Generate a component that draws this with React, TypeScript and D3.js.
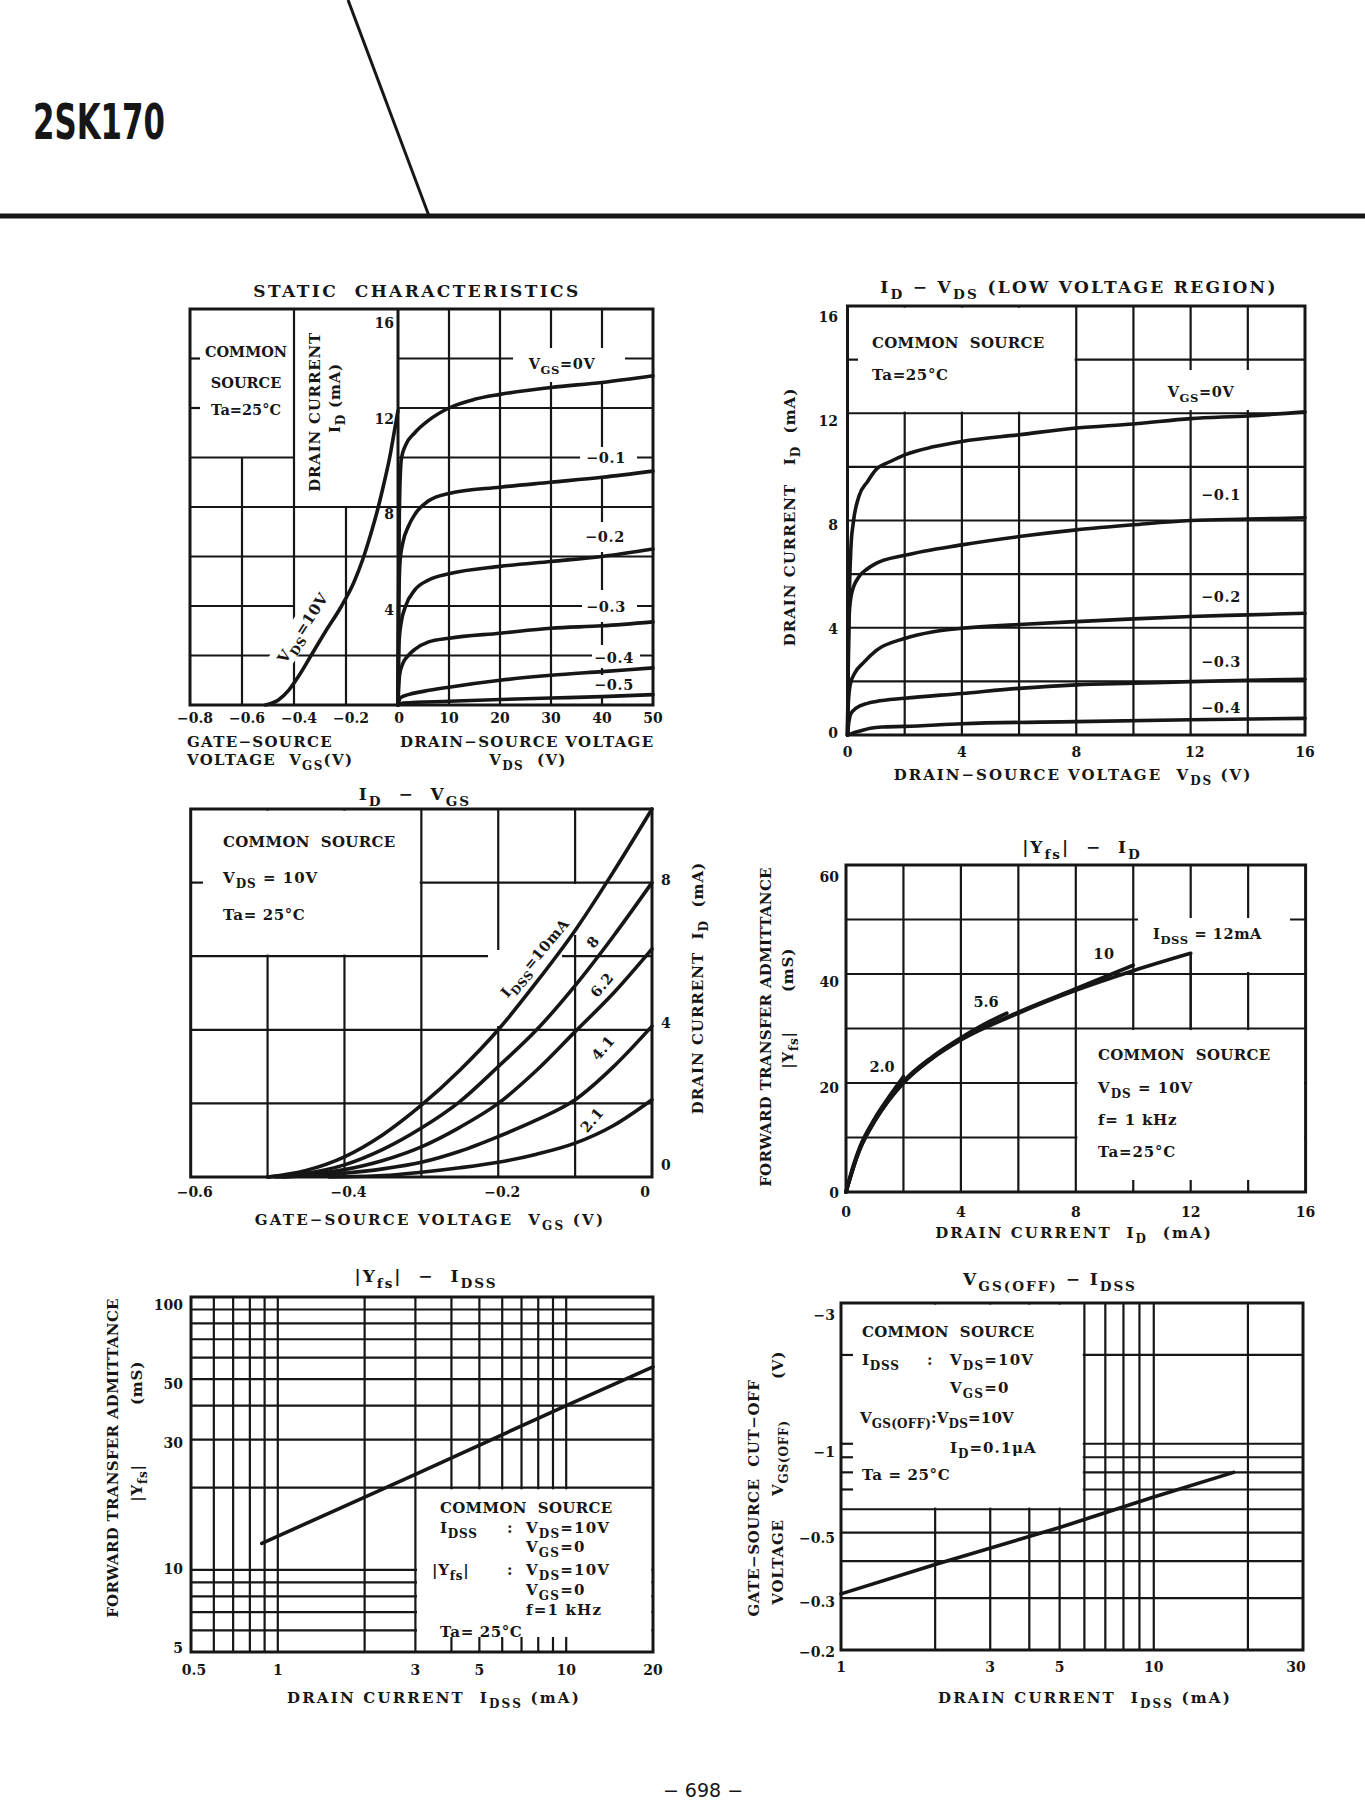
import React from 'react';
import * as d3 from 'd3';

const INK = '#161616';
const SERIF = "'DejaVu Serif', 'Liberation Serif', serif";
const SANS = "'DejaVu Sans', 'Liberation Sans', sans-serif";

type Pt = [number, number];

// ---- header ----
const partNumber = '2SK170';
const pageNumber = '− 698 −';

// ---- STATIC CHARACTERISTICS ----
const staticVgsTicks = [-0.8, -0.6, -0.4, -0.2];
const staticVgsTickLabels = ['−0.8', '−0.6', '−0.4', '−0.2'];
const staticVdsTicks = [0, 10, 20, 30, 40, 50];
const staticIdTicks = [4, 8, 12, 16];
const staticVdsGrid = [10, 20, 30, 40];
const staticIdGrid = [2, 4, 6, 8, 10, 12, 14];
const staticCurveLabels = ['V_{GS}=0V', '−0.1', '−0.2', '−0.3', '−0.4', '−0.5'];
const staticOut0: Pt[] = [[0, 0], [0.1, 4], [0.25, 7.5], [0.45, 9.3], [0.7, 10], [1.5, 10.5], [3.3, 11], [6, 11.5], [10, 12], [15, 12.35], [20, 12.55], [30, 12.83], [40, 13.03], [50, 13.3]];
const staticOut1: Pt[] = [[0, 0], [0.15, 4], [0.4, 5.8], [1, 6.6], [2, 7.2], [3.3, 7.7], [6, 8.25], [10, 8.55], [20, 8.8], [30, 9], [40, 9.2], [50, 9.45]];
const staticOut2: Pt[] = [[0, 0], [0.2, 2.5], [0.6, 3.3], [1.5, 4], [3.3, 4.65], [6, 5.05], [10, 5.3], [20, 5.6], [30, 5.8], [40, 6], [50, 6.3]];
const staticOut3: Pt[] = [[0, 0], [0.3, 1.2], [1, 1.7], [2, 2], [3.3, 2.25], [6, 2.55], [10, 2.7], [20, 2.9], [30, 3.1], [40, 3.2], [50, 3.36]];
const staticOut4: Pt[] = [[0, 0], [0.5, 0.3], [2, 0.42], [5, 0.55], [10, 0.72], [20, 1], [30, 1.2], [40, 1.35], [50, 1.5]];
const staticOut5: Pt[] = [[0, 0], [1, 0.08], [10, 0.15], [20, 0.22], [30, 0.28], [40, 0.34], [50, 0.42]];
const staticTransfer: Pt[] = [[-0.51, 0], [-0.46, 0.2], [-0.42, 0.6], [-0.38, 1.2], [-0.34, 1.9], [-0.28, 2.95], [-0.22, 3.95], [-0.17, 4.95], [-0.135, 5.9], [-0.105, 6.9], [-0.077, 7.95], [-0.053, 9], [-0.032, 10], [-0.015, 11], [0, 11.9]];

// ---- ID - VDS (LOW VOLTAGE REGION) ----
const lvTicks = [0, 4, 8, 12, 16];
const lvGrid = [2, 4, 6, 8, 10, 12, 14];
const lvCurveLabels = ['V_{GS}=0V', '−0.1', '−0.2', '−0.3', '−0.4'];
const lv0: Pt[] = [[0, 0], [0.03, 3], [0.07, 5.5], [0.12, 7], [0.2, 7.9], [0.4, 8.9], [0.7, 9.45], [1, 9.9], [1.5, 10.2], [2, 10.45], [3, 10.75], [4, 10.95], [6, 11.2], [8, 11.45], [10, 11.6], [12, 11.8], [14, 11.9], [16, 12.05]];
const lv1: Pt[] = [[0, 0], [0.03, 3], [0.06, 4.5], [0.15, 5.3], [0.4, 5.9], [0.7, 6.2], [1, 6.4], [2, 6.7], [4, 7.09], [6, 7.4], [8, 7.65], [10, 7.84], [12, 8], [14, 8.05], [16, 8.1]];
const lv2: Pt[] = [[0, 0], [0.03, 1.2], [0.1, 1.9], [0.25, 2.3], [0.56, 2.7], [1, 3.15], [2, 3.6], [3, 3.85], [4, 3.98], [6, 4.12], [8, 4.23], [10, 4.33], [12, 4.42], [14, 4.48], [16, 4.54]];
const lv3: Pt[] = [[0, 0], [0.05, 0.5], [0.12, 0.8], [0.3, 1], [0.7, 1.18], [1, 1.25], [2, 1.37], [4, 1.55], [6, 1.74], [8, 1.87], [10, 1.93], [12, 1.99], [14, 2.04], [16, 2.08]];
const lv4: Pt[] = [[0, 0], [0.2, 0.08], [0.5, 0.17], [0.8, 0.25], [1.2, 0.3], [2, 0.32], [4, 0.42], [8, 0.5], [12, 0.57], [16, 0.62]];

// ---- ID - VGS ----
const idVgsXTicks = [-0.6, -0.4, -0.2, 0];
const idVgsXTickLabels = ['−0.6', '−0.4', '−0.2', '0'];
const idVgsYTicks = [0, 4, 8];
const idVgsXGrid = [-0.5, -0.4, -0.3, -0.2, -0.1];
const idVgsYGrid = [2, 4, 6, 8];
const idVgsLabels = ['I_{DSS}=10mA', '8', '6.2', '4.1', '2.1'];
const idVgs10: Pt[] = [[-0.5, 0], [-0.45, 0.18], [-0.4, 0.55], [-0.35, 1.15], [-0.3, 1.95], [-0.25, 2.9], [-0.2, 4], [-0.15, 5.3], [-0.1, 6.7], [-0.05, 8.3], [0, 10]];
const idVgs8: Pt[] = [[-0.5, 0], [-0.45, 0.1], [-0.4, 0.33], [-0.35, 0.75], [-0.3, 1.33], [-0.25, 2.05], [-0.2, 3], [-0.15, 4], [-0.1, 5.2], [-0.05, 6.55], [0, 8]];
const idVgs62: Pt[] = [[-0.49, 0], [-0.45, 0.05], [-0.4, 0.2], [-0.35, 0.45], [-0.3, 0.82], [-0.25, 1.35], [-0.2, 2], [-0.15, 2.9], [-0.1, 3.95], [-0.05, 5], [0, 6.2]];
const idVgs41: Pt[] = [[-0.48, 0], [-0.4, 0.1], [-0.35, 0.22], [-0.3, 0.4], [-0.25, 0.7], [-0.2, 1.1], [-0.15, 1.55], [-0.1, 2.1], [-0.05, 3], [0, 4.1]];
const idVgs21: Pt[] = [[-0.42, 0], [-0.35, 0.04], [-0.3, 0.13], [-0.25, 0.25], [-0.2, 0.4], [-0.15, 0.62], [-0.1, 0.92], [-0.05, 1.4], [0, 2.1]];

// ---- |Yfs| - ID ----
const yfsIdXTicks = [0, 4, 8, 12, 16];
const yfsIdYTicks = [0, 20, 40, 60];
const yfsIdXGrid = [2, 4, 6, 8, 10, 12, 14];
const yfsIdYGrid = [10, 20, 30, 40, 50];
const yfsIdLabels = ['2.0', '5.6', '10', 'I_{DSS} = 12mA'];
const yfsId20: Pt[] = [[0, 0], [0.25, 4.8], [0.5, 8.5], [1, 13.5], [1.5, 17.5], [2, 21.2]];
const yfsId56: Pt[] = [[0, 0], [0.5, 8.3], [1, 13.2], [2, 20.3], [3, 24.8], [4, 28.3], [5, 31.3], [5.6, 32.8]];
const yfsId10: Pt[] = [[0, 0], [0.5, 8.1], [1, 13], [2, 20.1], [3, 24.6], [4, 28], [6, 33], [8, 37.3], [10, 41.6]];
const yfsId12: Pt[] = [[0, 0], [0.25, 4.5], [0.5, 8], [1, 13], [2, 20], [3, 24.5], [4, 27.9], [6, 32.8], [8, 37], [10, 40.6], [12, 43.8]];

// ---- |Yfs| - IDSS ----
const yfsIdssXTicks = [0.5, 1, 3, 5, 10, 20];
const yfsIdssYTicks = [5, 10, 30, 50, 100];
const yfsIdssXGrid = [0.6, 0.7, 0.8, 0.9, 1, 2, 3, 4, 5, 6, 7, 8, 9, 10];
const yfsIdssYGrid = [6, 7, 8, 9, 10, 20, 30, 40, 50, 60, 70, 80, 90];
const yfsIdssBottomTicks = [4, 5, 6, 7, 8, 9, 10];
const yfsIdss: Pt[] = [[0.88, 12.5], [3, 22.4], [10, 40], [20, 55.5]];

// ---- VGS(OFF) - IDSS ----
const vgsOffXTicks = [1, 3, 5, 10, 30];
const vgsOffYTicks = [0.2, 0.3, 0.5, 1, 3];
const vgsOffYTickLabels = ['−0.2', '−0.3', '−0.5', '−1', '−3'];
const vgsOffXGrid = [2, 3, 4, 5, 6, 7, 8, 9, 10, 20];
const vgsOffYGrid = [0.3, 0.4, 0.5, 0.6, 0.7, 0.8, 0.9, 1, 2];
const vgsOffLeftTicks = [0.7, 0.8, 0.9, 1, 2];
const vgsOff: Pt[] = [[1, 0.31], [2, 0.39], [5, 0.52], [10, 0.66], [18, 0.8]];

function Txt({ x, y, t, size = 15, anchor = 'start', rot = 0, ls = 0.3, weight = 700, family = SERIF, dy = 0 }: any) {
  const parts = String(t).split(/(_\{[^}]*\})/).filter((s) => s.length > 0);
  const sh = size * 0.36;
  let low = false;
  const spans = parts.map((p, i) => {
    if (p.startsWith('_{')) {
      const d = low ? 0 : sh;
      low = true;
      return <tspan key={i} dy={d} fontSize={size * 0.8}>{p.slice(2, -1)}</tspan>;
    }
    const d = low ? -sh : 0;
    low = false;
    return <tspan key={i} dy={d}>{p}</tspan>;
  });
  return (
    <text
      transform={`translate(${x},${y})` + (rot ? ` rotate(${rot})` : '')}
      y={dy}
      fontFamily={family}
      fontSize={size}
      fontWeight={weight}
      letterSpacing={ls}
      textAnchor={anchor}
      fill={INK}
      style={{ whiteSpace: 'pre' }}
    >
      {spans}
    </text>
  );
}

function Grid({ sx, sy, xs, ys, xd, yd, w = 2.2 }: any) {
  return (
    <g stroke={INK} strokeWidth={w}>
      {xs.map((v: number) => <line key={'x' + v} x1={sx(v)} x2={sx(v)} y1={sy(yd[0])} y2={sy(yd[1])} />)}
      {ys.map((v: number) => <line key={'y' + v} x1={sx(xd[0])} x2={sx(xd[1])} y1={sy(v)} y2={sy(v)} />)}
    </g>
  );
}

function Knock({ x0, y0, x1, y1 }: any) {
  return <rect x={Math.min(x0, x1)} y={Math.min(y0, y1)} width={Math.abs(x1 - x0)} height={Math.abs(y1 - y0)} fill="#fff" />;
}

// white-out a rectangular region given in data coordinates, keeping its bordering grid lines
function BoxKnock({ sx, sy, xa, xb, ya, yb }: any) {
  const px = [sx(xa), sx(xb)].sort((a, b) => a - b);
  const py = [sy(ya), sy(yb)].sort((a, b) => a - b);
  return <Knock x0={px[0] + 1.6} x1={px[1] - 1.6} y0={py[0] + 1.6} y1={py[1] - 1.6} />;
}

function Frame({ x0, y0, x1, y1 }: any) {
  return <rect x={x0} y={y0} width={x1 - x0} height={y1 - y0} fill="none" stroke={INK} strokeWidth={3} />;
}

function Curve({ pts, sx, sy, w = 3.6, straight = false }: any) {
  const gen = d3
    .line<Pt>()
    .x((d) => sx(d[0]))
    .y((d) => sy(d[1]))
    .curve(straight ? d3.curveLinear : d3.curveMonotoneX);
  return <path d={gen(pts) || ''} fill="none" stroke={INK} strokeWidth={w} strokeLinecap="round" strokeLinejoin="round" />;
}

const L = ({ x1, y1, x2, y2, w = 2.2 }: any) => <line x1={x1} y1={y1} x2={x2} y2={y2} stroke={INK} strokeWidth={w} />;

const COMMON_SOURCE = 'COMMON\u00a0\u00a0SOURCE';

export default function App() {
  // ---------- scales ----------
  const s1g = d3.scaleLinear().domain([-0.8, 0]).range([190, 398]);
  const s1d = d3.scaleLinear().domain([0, 50]).range([398, 653]);
  const s1y = d3.scaleLinear().domain([0, 16]).range([705, 309]);
  const s1lab = d3.scaleLinear().domain([4, 16]).range([615, 328]);

  const s2x = d3.scaleLinear().domain([0, 16]).range([847.5, 1305]);
  const s2y = d3.scaleLinear().domain([0, 16]).range([735, 306]);
  const s2lab = d3.scaleLinear().domain([0, 16]).range([738, 322]);

  const s3x = d3.scaleLinear().domain([-0.6, 0]).range([190.7, 652]);
  const s3y = d3.scaleLinear().domain([0, 10]).range([1177, 809]);
  const s3lab = d3.scaleLinear().domain([0, 8]).range([1170, 885]);

  const s4x = d3.scaleLinear().domain([0, 16]).range([846, 1305.6]);
  const s4y = d3.scaleLinear().domain([0, 60]).range([1192, 865]);
  const s4lab = d3.scaleLinear().domain([0, 60]).range([1198, 882]);

  const s5x = d3.scaleLog().domain([0.5, 20]).range([191, 653]);
  const s5y = d3.scaleLog().domain([5, 100]).range([1652, 1297]);
  const s5lab = d3.scaleLog().domain([5, 100]).range([1653, 1310]);

  const s6x = d3.scaleLog().domain([1, 30]).range([841, 1303]);
  const s6y = d3.scaleLog().domain([0.2, 3]).range([1650, 1303]);
  const s6lab = d3.scaleLog().domain([0.2, 3]).range([1657, 1320]);

  // left-half grid of the static chart is irregular: [value, from, to]
  const staticLeftH = [[10, -0.8, -0.4], [8, -0.8, 0], [6, -0.8, 0], [4, -0.8, -0.4], [2, -0.8, 0]];
  const staticLeftV = [[-0.6, 0, 10], [-0.4, 0, 16], [-0.2, 0, 8]];
  const staticOut = [staticOut0, staticOut1, staticOut2, staticOut3, staticOut4, staticOut5];
  const staticLabelPos = [[562, 369], [606, 463], [605, 542], [606, 612], [614, 663], [614, 690]];

  const lvCurves = [lv0, lv1, lv2, lv3, lv4];
  const lvLabelPos = [[1201, 397], [1221, 500], [1221, 602], [1221, 667], [1221, 713]];

  const idVgsCurves = [idVgs10, idVgs8, idVgs62, idVgs41, idVgs21];
  const idVgsLabelPos = [[535, 958], [593, 942], [602, 985], [603, 1048], [592, 1120]];

  const yfsIdCurves = [yfsId20, yfsId56, yfsId10, yfsId12];

  return (
    <svg width={1365} height={1809} style={{ position: 'absolute', left: 0, top: 0, background: '#fff' }}>
      <rect x={0} y={0} width={1365} height={1809} fill="#fff" />

      {/* ---------- header ---------- */}
      <text x={33} y={139} fontFamily={SANS} fontWeight={700} fontSize={50} fill={INK} textLength={132} lengthAdjust="spacingAndGlyphs">
        {partNumber}
      </text>
      <L x1={348} y1={0} x2={429} y2={216} w={3} />
      <L x1={0} y1={216} x2={1365} y2={216} w={5} />

      {/* ---------- STATIC CHARACTERISTICS ---------- */}
      <g>
        <g stroke={INK} strokeWidth={2.2}>
          {staticLeftH.map(([v, a, b]) => <line key={'h' + v} x1={s1g(a)} x2={s1g(b)} y1={s1y(v)} y2={s1y(v)} />)}
          {staticLeftV.map(([v, a, b]) => <line key={'v' + v} x1={s1g(v)} x2={s1g(v)} y1={s1y(a)} y2={s1y(b)} />)}
        </g>
        <Grid sx={s1d} sy={s1y} xs={staticVdsGrid} ys={staticIdGrid} xd={[0, 50]} yd={[0, 16]} />
        <rect x={-54} y={-13} width={108} height={24} fill="#fff" transform="translate(303,628) rotate(-57)" />
        <Knock x0={513} y0={348} x1={625} y1={382} />
        <Knock x0={580} y0={447} x1={637} y1={478} />
        <Knock x0={580} y0={522} x1={637} y1={552} />
        <Knock x0={582} y0={590} x1={637} y1={622} />
        <Knock x0={592} y0={645} x1={640} y1={668} />
        <Knock x0={592} y0={675} x1={640} y1={695} />
        {[12, 14].map((v) => <L key={v} x1={190} x2={200} y1={s1y(v)} y2={s1y(v)} />)}
        <Frame x0={190} y0={309} x1={653} y1={705} />
        <L x1={398} x2={398} y1={309} y2={705} w={3} />
        {staticOut.map((pts, i) => <Curve key={i} pts={pts} sx={s1d} sy={s1y} />)}
        <Curve pts={staticTransfer} sx={s1g} sy={s1y} />

        <Txt x={417} y={297} t={'STATIC\u00a0\u00a0CHARACTERISTICS'} size={17} anchor="middle" ls={2.4} />
        <Txt x={246} y={357} t="COMMON" anchor="middle" size={14.5} ls={0} />
        <Txt x={246} y={388} t="SOURCE" anchor="middle" size={14.5} ls={0} />
        <Txt x={246} y={415} t="Ta=25°C" anchor="middle" size={14.5} ls={0} />
        <Txt x={320} y={412} t={'DRAIN\u00a0CURRENT'} anchor="middle" rot={-90} ls={0.8} />
        <Txt x={340} y={398} t={'I_{D}\u00a0(mA)'} anchor="middle" rot={-90} ls={0.8} />
        <Txt x={303} y={628} t="V_{DS}=10V" anchor="middle" rot={-57} dy={5} ls={0.6} />
        {staticCurveLabels.map((t, i) => (
          <Txt key={t} x={staticLabelPos[i][0]} y={staticLabelPos[i][1]} t={t} anchor="middle" size={14.5} ls={0.6} />
        ))}
        {staticIdTicks.map((v) => <Txt key={v} x={394} y={s1lab(v)} t={String(v)} anchor="end" size={14} ls={0} />)}
        {staticVgsTicks.map((v, i) => <Txt key={v} x={s1g(v) + 5} y={723} t={staticVgsTickLabels[i]} anchor="middle" size={14} ls={0} />)}
        {staticVdsTicks.map((v) => <Txt key={v} x={s1d(v) + (v === 0 ? 1 : 0)} y={723} t={String(v)} anchor="middle" size={14} ls={0} />)}
        <Txt x={187} y={747} t="GATE−SOURCE" size={15} ls={1.3} />
        <Txt x={187} y={765} t={'VOLTAGE\u00a0\u00a0V_{GS}(V)'} size={15} ls={1.3} />
        <Txt x={400} y={747} t={'DRAIN−SOURCE\u00a0VOLTAGE'} size={15} ls={1.3} />
        <Txt x={528} y={765} t={'V_{DS}\u00a0\u00a0(V)'} size={15} anchor="middle" ls={1.3} />
      </g>

      {/* ---------- ID - VDS (LOW VOLTAGE REGION) ---------- */}
      <g>
        <Grid sx={s2x} sy={s2y} xs={lvGrid} ys={lvGrid} xd={[0, 16]} yd={[0, 16]} />
        <BoxKnock sx={s2x} sy={s2y} xa={0} xb={8} ya={12} yb={16} />
        <Knock x0={1150} y0={370} x1={1252} y1={410} />
        <L x1={847.5} x2={858} y1={s2y(14)} y2={s2y(14)} />
        <Frame x0={847.5} y0={306} x1={1305} y1={735} />
        {lvCurves.map((pts, i) => <Curve key={i} pts={pts} sx={s2x} sy={s2y} />)}

        <Txt x={1079} y={293} t={'I_{D}\u00a0−\u00a0V_{DS}\u00a0(LOW\u00a0VOLTAGE\u00a0REGION)'} size={17} anchor="middle" ls={2.3} />
        <Txt x={872} y={348} t={COMMON_SOURCE} />
        <Txt x={872} y={380} t="Ta=25°C" ls={0.6} />
        {lvCurveLabels.map((t, i) => (
          <Txt key={t} x={lvLabelPos[i][0]} y={lvLabelPos[i][1]} t={t} anchor="middle" size={14.5} ls={0.6} />
        ))}
        {lvTicks.map((v) => <Txt key={'y' + v} x={838} y={s2lab(v)} t={String(v)} anchor="end" size={14} ls={0} />)}
        {lvTicks.map((v) => <Txt key={'x' + v} x={s2x(v) + (v === 12 ? 4 : 0)} y={757} t={String(v)} anchor="middle" size={14} ls={0} />)}
        <Txt x={1073} y={780} t={'DRAIN−SOURCE\u00a0VOLTAGE\u00a0\u00a0V_{DS}\u00a0(V)'} size={15} anchor="middle" ls={2} />
        <Txt x={795} y={517} t={'DRAIN\u00a0CURRENT\u00a0\u00a0\u00a0I_{D}\u00a0\u00a0(mA)'} size={15} anchor="middle" rot={-90} ls={1} />
      </g>

      {/* ---------- ID - VGS ---------- */}
      <g>
        <Grid sx={s3x} sy={s3y} xs={idVgsXGrid} ys={idVgsYGrid} xd={[-0.6, 0]} yd={[0, 10]} />
        <BoxKnock sx={s3x} sy={s3y} xa={-0.6} xb={-0.3} ya={6} yb={10} />
        <Knock x0={488} y0={950} x1={562} y1={1026} />
        <Knock x0={570} y0={884} x1={584} y1={935} />
        <L x1={190.7} x2={203} y1={s3y(8)} y2={s3y(8)} />
        <Frame x0={190.7} y0={809} x1={652} y1={1177} />
        {idVgsCurves.map((pts, i) => <Curve key={i} pts={pts} sx={s3x} sy={s3y} />)}

        <Txt x={415} y={800} t={'I_{D}\u00a0\u00a0−\u00a0\u00a0V_{GS}'} size={17} anchor="middle" ls={2} />
        <Txt x={223} y={847} t={COMMON_SOURCE} />
        <Txt x={223} y={883} t={'V_{DS}\u00a0=\u00a010V'} ls={1} />
        <Txt x={223} y={920} t={'Ta=\u00a025°C'} ls={0.6} />
        {idVgsLabels.map((t, i) => (
          <Txt key={t} x={idVgsLabelPos[i][0]} y={idVgsLabelPos[i][1]} t={t} anchor="middle" rot={-50} dy={5} size={14.5} ls={0.6} />
        ))}
        {idVgsYTicks.map((v) => <Txt key={v} x={661} y={s3lab(v)} t={String(v)} size={14} ls={0} />)}
        {idVgsXTicks.map((v, i) => <Txt key={v} x={s3x(v) + (v < 0 ? 4 : -7)} y={1197} t={idVgsXTickLabels[i]} anchor="middle" size={14} ls={0} />)}
        <Txt x={430} y={1225} t={'GATE−SOURCE\u00a0VOLTAGE\u00a0\u00a0V_{GS}\u00a0(V)'} size={15} anchor="middle" ls={2.2} />
        <Txt x={703} y={988} t={'DRAIN\u00a0CURRENT\u00a0\u00a0I_{D}\u00a0\u00a0(mA)'} size={15} anchor="middle" rot={-90} ls={1} />
      </g>

      {/* ---------- |Yfs| - ID ---------- */}
      <g>
        <Grid sx={s4x} sy={s4y} xs={yfsIdXGrid} ys={yfsIdYGrid} xd={[0, 16]} yd={[0, 60]} />
        <BoxKnock sx={s4x} sy={s4y} xa={8} xb={16} ya={0} yb={30} />
        <Knock x0={1138} y0={918} x1={1290} y1={952} />
        <Knock x0={1240} y0={950} x1={1262} y1={972} />
        {[10, 12, 14].map((v) => <L key={v} x1={s4x(v)} x2={s4x(v)} y1={1180} y2={1192} />)}
        <Frame x0={846} y0={865} x1={1305.6} y1={1192} />
        {yfsIdCurves.map((pts, i) => <Curve key={i} pts={pts} sx={s4x} sy={s4y} w={3.6} />)}
        <L x1={s4x(12)} x2={s4x(12)} y1={s4y(43.8)} y2={s4y(30)} />

        <Txt x={1082} y={853} t={'|Y_{fs}|\u00a0\u00a0−\u00a0\u00a0I_{D}'} size={17} anchor="middle" ls={2} />
        <Txt x={882} y={1072} t={yfsIdLabels[0]} anchor="middle" size={14.5} ls={0} />
        <Txt x={986} y={1007} t={yfsIdLabels[1]} anchor="middle" size={14.5} ls={0} />
        <Txt x={1104} y={959} t={yfsIdLabels[2]} anchor="middle" size={14.5} ls={0.6} />
        <Txt x={1153} y={939} t={yfsIdLabels[3]} size={14.5} ls={0.6} />
        <Txt x={1098} y={1060} t={COMMON_SOURCE} />
        <Txt x={1098} y={1093} t={'V_{DS}\u00a0=\u00a010V'} ls={1} />
        <Txt x={1098} y={1125} t={'f=\u00a01\u00a0kHz'} ls={0.8} />
        <Txt x={1098} y={1157} t="Ta=25°C" ls={0.8} />
        {yfsIdYTicks.map((v) => <Txt key={v} x={839} y={s4lab(v)} t={String(v)} anchor="end" size={14} ls={0} />)}
        {yfsIdXTicks.map((v) => <Txt key={v} x={s4x(v)} y={1217} t={String(v)} anchor="middle" size={14} ls={0} />)}
        <Txt x={1074} y={1238} t={'DRAIN\u00a0CURRENT\u00a0\u00a0I_{D}\u00a0\u00a0(mA)'} size={15} anchor="middle" ls={2.1} />
        <Txt x={771} y={1027} t={'FORWARD\u00a0TRANSFER\u00a0ADMITTANCE'} size={15} anchor="middle" rot={-90} ls={0.3} />
        <Txt x={793} y={970} t="(mS)" size={15} anchor="middle" rot={-90} ls={0.8} />
        <Txt x={793} y={1050} t="|Y_{fs}|" size={15} anchor="middle" rot={-90} ls={0.8} />
      </g>

      {/* ---------- |Yfs| - IDSS ---------- */}
      <g>
        <Grid sx={s5x} sy={s5y} xs={yfsIdssXGrid} ys={yfsIdssYGrid} xd={[0.5, 20]} yd={[5, 100]} />
        <BoxKnock sx={s5x} sy={s5y} xa={3} xb={20} ya={5} yb={20} />
        {yfsIdssBottomTicks.map((v) => <L key={v} x1={s5x(v)} x2={s5x(v)} y1={1637} y2={1652} />)}
        <Frame x0={191} y0={1297} x1={653} y1={1652} />
        <Curve pts={yfsIdss} sx={s5x} sy={s5y} straight />

        <Txt x={426} y={1282} t={'|Y_{fs}|\u00a0\u00a0−\u00a0\u00a0I_{DSS}'} size={17} anchor="middle" ls={2} />
        <Txt x={440} y={1513} t={COMMON_SOURCE} />
        <Txt x={440} y={1533} t="I_{DSS}" ls={0.8} />
        <Txt x={507} y={1533} t=":" />
        <Txt x={526} y={1533} t="V_{DS}=10V" ls={1.2} />
        <Txt x={526} y={1552} t="V_{GS}=0" ls={1.2} />
        <Txt x={432} y={1575} t="|Y_{fs}|" ls={0.8} />
        <Txt x={507} y={1575} t=":" />
        <Txt x={526} y={1575} t="V_{DS}=10V" ls={1.2} />
        <Txt x={526} y={1595} t="V_{GS}=0" ls={1.2} />
        <Txt x={526} y={1615} t={'f=1\u00a0kHz'} ls={1.2} />
        <Txt x={440} y={1637} t={'Ta=\u00a025°C'} ls={0.6} />
        {yfsIdssYTicks.map((v) => <Txt key={v} x={183} y={s5lab(v)} t={String(v)} anchor="end" size={14} ls={0} />)}
        {yfsIdssXTicks.map((v) => <Txt key={v} x={s5x(v) + (v === 0.5 ? 3 : 0)} y={1675} t={String(v)} anchor="middle" size={14} ls={0} />)}
        <Txt x={434} y={1703} t={'DRAIN\u00a0CURRENT\u00a0\u00a0I_{DSS}\u00a0(mA)'} size={15} anchor="middle" ls={2.2} />
        <Txt x={118} y={1458} t={'FORWARD\u00a0TRANSFER\u00a0ADMITTANCE'} size={15} anchor="middle" rot={-90} ls={0.3} />
        <Txt x={142} y={1383} t="(mS)" size={15} anchor="middle" rot={-90} ls={0.8} />
        <Txt x={142} y={1483} t="|Y_{fs}|" size={15} anchor="middle" rot={-90} ls={0.8} />
      </g>

      {/* ---------- VGS(OFF) - IDSS ---------- */}
      <g>
        <Grid sx={s6x} sy={s6y} xs={vgsOffXGrid} ys={vgsOffYGrid} xd={[1, 30]} yd={[0.2, 3]} />
        <BoxKnock sx={s6x} sy={s6y} xa={1} xb={6} ya={0.6} yb={3} />
        {vgsOffLeftTicks.map((v) => <L key={v} x1={841} x2={853} y1={s6y(v)} y2={s6y(v)} />)}
        <Frame x0={841} y0={1303} x1={1303} y1={1650} />
        <Curve pts={vgsOff} sx={s6x} sy={s6y} straight />

        <Txt x={1050} y={1285} t={'V_{GS(OFF)}\u00a0−\u00a0I_{DSS}'} size={17} anchor="middle" ls={2} />
        <Txt x={862} y={1337} t={COMMON_SOURCE} />
        <Txt x={862} y={1365} t="I_{DSS}" ls={0.8} />
        <Txt x={927} y={1365} t=":" />
        <Txt x={950} y={1365} t="V_{DS}=10V" ls={1.2} />
        <Txt x={950} y={1393} t="V_{GS}=0" ls={1.2} />
        <Txt x={860} y={1423} t="V_{GS(OFF)}:V_{DS}=10V" ls={0.2} />
        <Txt x={950} y={1453} t="I_{D}=0.1μA" ls={1} />
        <Txt x={862} y={1480} t={'Ta\u00a0=\u00a025°C'} ls={0.6} />
        {vgsOffYTicks.map((v, i) => <Txt key={v} x={835} y={s6lab(v)} t={vgsOffYTickLabels[i]} anchor="end" size={14} ls={0} />)}
        {vgsOffXTicks.map((v) => <Txt key={v} x={s6x(v) - (v === 30 ? 7 : 0)} y={1672} t={String(v)} anchor="middle" size={14} ls={0} />)}
        <Txt x={1085} y={1703} t={'DRAIN\u00a0CURRENT\u00a0\u00a0I_{DSS}\u00a0(mA)'} size={15} anchor="middle" ls={2.2} />
        <Txt x={759} y={1498} t={'GATE−SOURCE\u00a0\u00a0CUT−OFF'} size={15} anchor="middle" rot={-90} ls={0.6} />
        <Txt x={783} y={1562} t="VOLTAGE" size={15} anchor="middle" rot={-90} ls={0.8} />
        <Txt x={783} y={1458} t="V_{GS(OFF)}" size={15} anchor="middle" rot={-90} ls={0.8} />
        <Txt x={783} y={1365} t="(V)" size={15} anchor="middle" rot={-90} ls={0.8} />
      </g>

      <Txt x={703} y={1797} t={pageNumber} family={SANS} weight={400} size={19} anchor="middle" ls={0} />
    </svg>
  );
}
